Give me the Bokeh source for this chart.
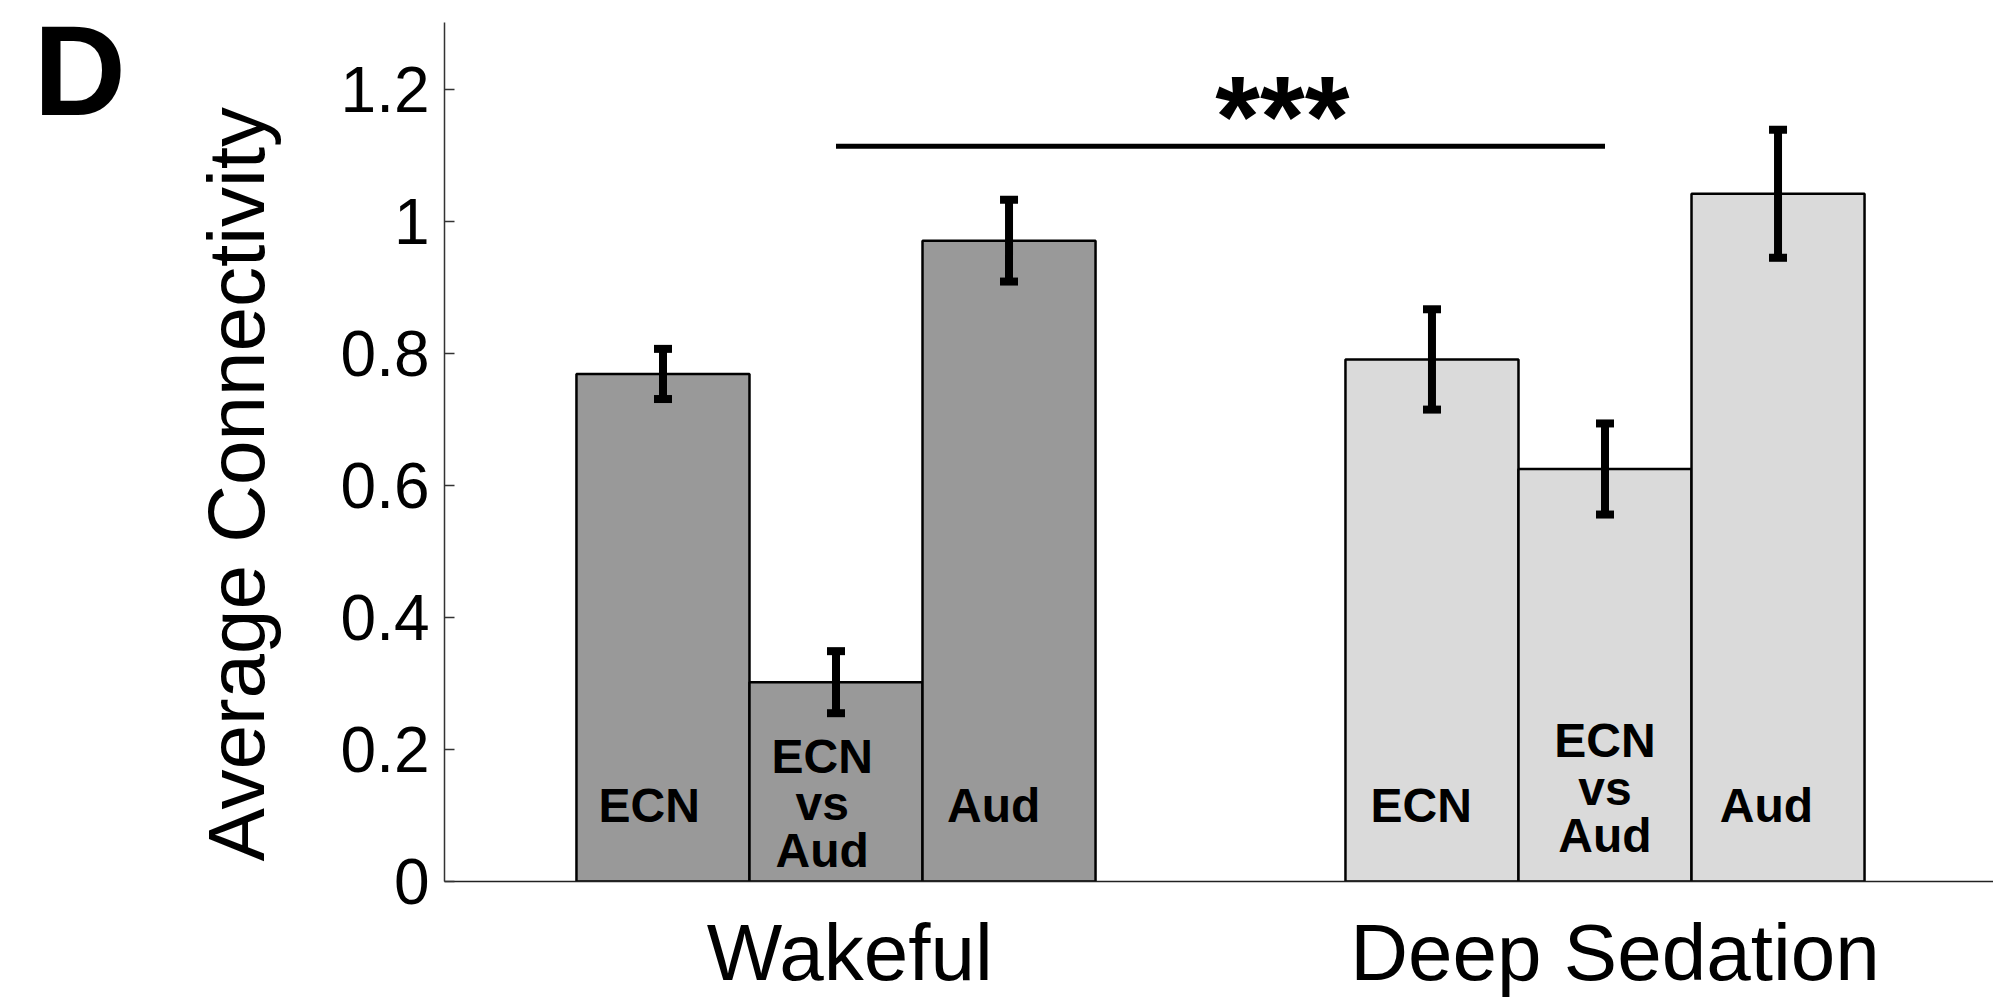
import numpy as np
from bokeh.plotting import figure
from bokeh.layouts import row
from bokeh.models import ColumnDataSource, Whisker, TeeHead, FixedTicker, Range1d
from bokeh.embed import file_html
from bokeh.resources import INLINE
from bokeh.core.properties import value

# ---------------- data ----------------
groups = ["Wakeful", "Deep Sedation"]
group_pos = [1, 2]
subgroups = ["ECN", "ECN vs Aud", "Aud"]
subgroup_lines = [["ECN"], ["ECN", "vs", "Aud"], ["Aud"]]
wakeful_vals = [0.769, 0.302, 0.971]
wakeful_err = [0.038, 0.047, 0.062]
deep_vals = [0.791, 0.625, 1.042]
deep_err = [0.076, 0.069, 0.097]
y_ticks = [0, 0.2, 0.4, 0.6, 0.8, 1.0, 1.2]
y_tick_labels = ["0", "0.2", "0.4", "0.6", "0.8", "1", "1.2"]
sig_text = "***"
sig_y = 1.114
panel_letter = "D"
y_title = "Average Connectivity"

# ---------------- layout / style ----------------
FONT = "Liberation Sans"
BAR_W = 0.225
colors = ["#999999", "#dadada"]
offsets = [-1, 0, 1]
H = 999
SIDE_W = 300

# side panel holding the panel letter and the y-axis title
side = figure(output_backend="svg", toolbar_location=None, width=SIDE_W, height=H,
              x_range=Range1d(0, SIDE_W), y_range=Range1d(0, H),
              min_border=0, min_border_left=0, min_border_right=0,
              min_border_top=0, min_border_bottom=0)
side.axis.visible = False
side.grid.visible = False
side.outline_line_color = None
side.background_fill_color = "white"
side.border_fill_color = "white"
side.text(x=[33], y=[H - 56], text=[panel_letter], text_font=value(FONT),
          text_font_style="bold", text_font_size="128px", text_align="left",
          text_baseline="middle", text_color="black")
side.text(x=[236], y=[H - 537], text=[y_title], angle=np.pi / 2, text_font=value(FONT),
          text_font_size="80px", text_align="center", text_baseline="middle",
          text_color="black")

p = figure(
    output_backend="svg", toolbar_location=None,
    frame_width=1549, frame_height=859,
    min_border_left=444 - SIDE_W, min_border_right=0, min_border_top=22, min_border_bottom=118,
    x_range=Range1d(0.4909, 2.5052), y_range=Range1d(0, 1.3015),
)
p.outline_line_color = None
p.grid.visible = False
p.background_fill_color = "white"
p.border_fill_color = "white"

all_vals = [wakeful_vals, deep_vals]
all_errs = [wakeful_err, deep_err]

bx, btop, bcol, blo, bup = [], [], [], [], []
for gi, g in enumerate(group_pos):
    for si, off in enumerate(offsets):
        x = g + off * BAR_W
        v = all_vals[gi][si]
        e = all_errs[gi][si]
        bx.append(x)
        btop.append(v)
        bcol.append(colors[gi])
        blo.append(v - e)
        bup.append(v + e)

src = ColumnDataSource(dict(x=bx, top=btop, color=bcol, lower=blo, upper=bup))
p.vbar(x="x", top="top", bottom=0, width=BAR_W, fill_color="color",
       line_color="black", line_width=2.5, source=src)

wh = Whisker(base="x", upper="upper", lower="lower", source=src, dimension="height",
             line_width=8, line_color="black", level="overlay",
             upper_head=TeeHead(size=18, line_width=8, line_color="black"),
             lower_head=TeeHead(size=18, line_width=8, line_color="black"))
p.add_layout(wh)

# bar labels (anchored at the middle of each text line)
single_mid = 0.115
multi_bottom = [0.047, 0.070]
line_step = 0.0715
label_dx = [[-0.018, -0.018, -0.02], [-0.014, 0.0, -0.015]]
tx, ty, tt = [], [], []
for gi, g in enumerate(group_pos):
    for si, off in enumerate(offsets):
        lines = subgroup_lines[si]
        x = g + off * BAR_W + label_dx[gi][si]
        if len(lines) == 1:
            tx.append(x); ty.append(single_mid); tt.append(lines[0])
        else:
            n = len(lines)
            for li, ln in enumerate(lines):
                tx.append(x)
                ty.append(multi_bottom[gi] + (n - 1 - li) * line_step)
                tt.append(ln)
p.text(x=tx, y=ty, text=tt, text_font=value(FONT), text_font_style="bold",
       text_font_size="48px", text_align="center", text_baseline="middle",
       text_color="black")

# significance bar
p.segment(x0=[group_pos[0]], y0=[sig_y], x1=[group_pos[1]], y1=[sig_y],
          line_width=5, line_color="black")
p.text(x=[1.5806], y=[1.160], text=[sig_text], text_font=value(FONT),
       text_font_style="bold", text_font_size="115px",
       text_align="center", text_baseline="middle", text_color="black")

# axes
group_label_dx = [0.018, 0.013]
group_ticks = [g + d for g, d in zip(group_pos, group_label_dx)]
p.xaxis.ticker = FixedTicker(ticks=group_ticks)
p.xaxis.major_label_overrides = dict(zip(group_ticks, groups))
p.xaxis.major_tick_line_color = None
p.xaxis.minor_tick_line_color = None
p.xaxis.major_label_standoff = 20
p.xaxis.major_label_text_font = FONT
p.xaxis.major_label_text_font_size = "80px"
p.xaxis.major_label_text_color = "black"
p.xaxis.axis_line_color = "#222222"
p.xaxis.axis_line_width = 1.5

p.yaxis.ticker = FixedTicker(ticks=y_ticks)
p.yaxis.major_label_overrides = dict(zip(y_ticks, y_tick_labels))
p.yaxis.major_tick_in = 10
p.yaxis.major_tick_out = 0
p.yaxis.major_tick_line_color = "#333333"
p.yaxis.major_tick_line_width = 1.5
p.yaxis.minor_tick_line_color = None
p.yaxis.major_label_standoff = 15
p.yaxis.major_label_text_font = FONT
p.yaxis.major_label_text_font_size = "64px"
p.yaxis.major_label_text_color = "black"
p.yaxis.axis_line_color = "#333333"
p.yaxis.axis_line_width = 1.5

layout = row(side, p)
open("out.html", "w").write(file_html(layout, INLINE))
